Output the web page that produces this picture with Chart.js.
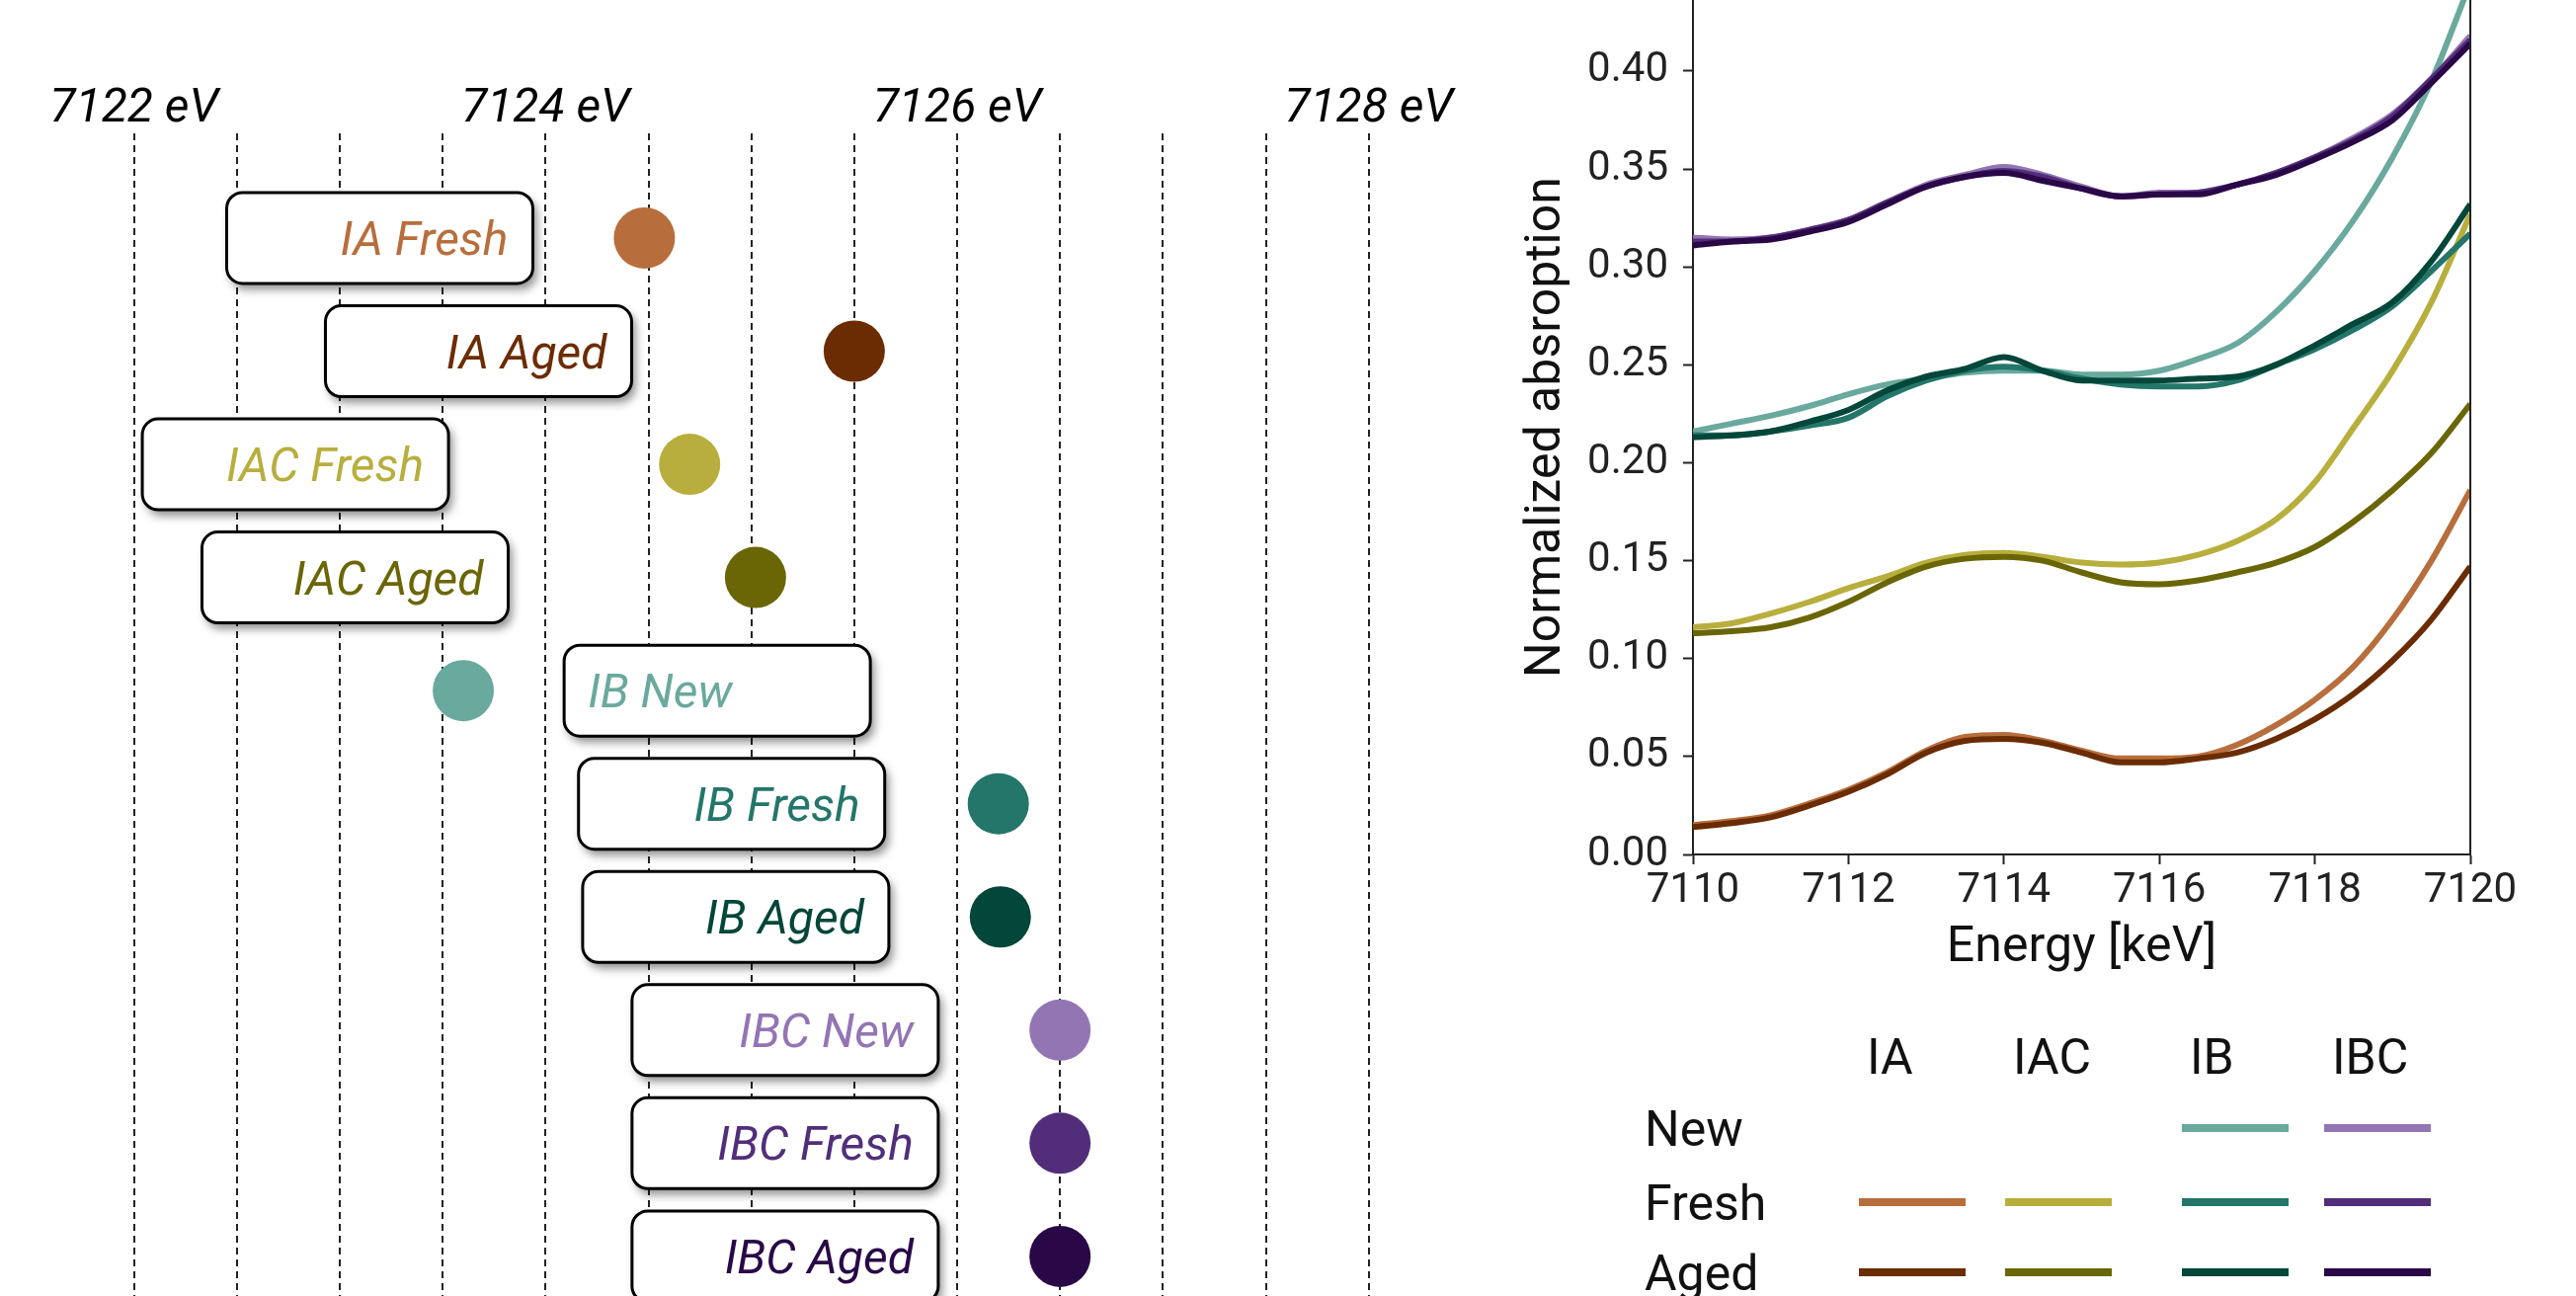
<!DOCTYPE html>
<html>
<head>
<meta charset="utf-8">
<script src="https://cdn.jsdelivr.net/npm/chart.js@4.4.1/dist/chart.umd.min.js"></script>
<style>
  body { margin: 0; width: 2608px; height: 1312px; overflow: hidden; background: #fff; position: relative; font-family: Roboto, sans-serif; }
  #edge { position: absolute; left: 0; top: 0; }
  #spec { position: absolute; left: 1500px; top: 0; }
  .lg { position: absolute; font-size: 50px; line-height: 1; color: #111; white-space: nowrap; }
  .sw { position: absolute; width: 108px; height: 8px; }
</style>
</head>
<body>
<canvas id="edge" width="1500" height="1312"></canvas>
<canvas id="spec" width="1108" height="1000"></canvas>
<div id="legend"></div>
<script>
// ---- edge positions (left panel) ----
var sampleNames = ['IA Fresh', 'IA Aged', 'IAC Fresh', 'IAC Aged', 'IB New', 'IB Fresh', 'IB Aged', 'IBC New', 'IBC Fresh', 'IBC Aged'];
var sampleColors = ['#b86e3c', '#6b2c03', '#b8ae3d', '#6b6605', '#6aa99d', '#24766a', '#03463a', '#9475b4', '#522e7a', '#2a0848'];
var edgeEnergy = [7124.48, 7125.50, 7124.70, 7125.02, 7123.60, 7126.20, 7126.21, 7126.50, 7126.50, 7126.50];
var labelFrom = [7122.45, 7122.93, 7122.04, 7122.33, 7124.09, 7124.16, 7124.18, 7124.42, 7124.42, 7124.42];
var gridEnergies = [7122, 7122.5, 7123, 7123.5, 7124, 7124.5, 7125, 7125.5, 7126, 7126.5, 7127, 7127.5, 7128];
var labeledEnergies = [7122, 7124, 7126, 7128];

// ---- spectra (right panel) ----
var energy = [7110, 7110.5, 7111, 7111.5, 7112, 7112.5, 7113, 7113.5, 7114, 7114.5, 7115, 7115.5, 7116, 7116.5, 7117, 7117.5, 7118, 7118.5, 7119, 7119.5, 7120];
var iaFresh  = [0.015, 0.017, 0.020, 0.026, 0.033, 0.042, 0.053, 0.060, 0.061, 0.058, 0.053, 0.049, 0.049, 0.050, 0.056, 0.066, 0.079, 0.096, 0.120, 0.150, 0.186];
var iaAged   = [0.014, 0.016, 0.019, 0.025, 0.032, 0.041, 0.052, 0.058, 0.059, 0.057, 0.052, 0.047, 0.047, 0.049, 0.052, 0.059, 0.069, 0.082, 0.099, 0.120, 0.147];
var iacFresh = [0.116, 0.118, 0.123, 0.129, 0.136, 0.142, 0.149, 0.153, 0.154, 0.152, 0.149, 0.148, 0.149, 0.153, 0.160, 0.171, 0.190, 0.218, 0.247, 0.282, 0.327];
var iacAged  = [0.113, 0.114, 0.116, 0.121, 0.129, 0.139, 0.147, 0.151, 0.152, 0.150, 0.144, 0.139, 0.138, 0.140, 0.144, 0.149, 0.157, 0.170, 0.186, 0.205, 0.230];
var ibNew    = [0.216, 0.220, 0.224, 0.229, 0.235, 0.240, 0.243, 0.246, 0.247, 0.247, 0.245, 0.245, 0.247, 0.253, 0.261, 0.277, 0.298, 0.324, 0.356, 0.395, 0.445];
var ibFresh  = [0.214, 0.214, 0.216, 0.219, 0.223, 0.234, 0.242, 0.247, 0.249, 0.247, 0.243, 0.240, 0.239, 0.239, 0.242, 0.250, 0.258, 0.268, 0.280, 0.298, 0.317];
var ibAged   = [0.213, 0.214, 0.216, 0.221, 0.227, 0.237, 0.244, 0.248, 0.254, 0.247, 0.242, 0.242, 0.242, 0.243, 0.244, 0.250, 0.260, 0.271, 0.282, 0.303, 0.332];
var ibcNew   = [0.315, 0.314, 0.315, 0.319, 0.324, 0.333, 0.342, 0.347, 0.351, 0.347, 0.341, 0.336, 0.338, 0.338, 0.342, 0.348, 0.356, 0.366, 0.378, 0.396, 0.418];
var ibcFresh = [0.313, 0.313, 0.315, 0.319, 0.324, 0.333, 0.341, 0.346, 0.349, 0.346, 0.340, 0.336, 0.337, 0.338, 0.342, 0.348, 0.356, 0.365, 0.377, 0.396, 0.416];
var ibcAged  = [0.311, 0.313, 0.314, 0.318, 0.323, 0.332, 0.341, 0.346, 0.348, 0.344, 0.340, 0.336, 0.337, 0.337, 0.342, 0.347, 0.355, 0.364, 0.375, 0.394, 0.414];
var xTicks = [7110, 7112, 7114, 7116, 7118, 7120];
var yTicks = [0, 0.05, 0.10, 0.15, 0.20, 0.25, 0.30, 0.35, 0.40];

var groups = ['IA', 'IAC', 'IB', 'IBC'];
var conditions = ['New', 'Fresh', 'Aged'];

var spectra = {
    'IA Fresh': iaFresh, 'IA Aged': iaAged,
    'IAC Fresh': iacFresh, 'IAC Aged': iacAged,
    'IB New': ibNew, 'IB Fresh': ibFresh, 'IB Aged': ibAged,
    'IBC New': ibcNew, 'IBC Fresh': ibcFresh, 'IBC Aged': ibcAged
};

// boxed italic labels next to each edge dot
var labelBoxes = {
    id: 'labelBoxes',
    beforeDatasetsDraw: function(chart)
    {
        var ctx = chart.ctx, x = chart.scales.x, y = chart.scales.y;
        var w = 310, h = 92;
        ctx.save();
        ctx.font = 'italic 48px Roboto';
        sampleNames.forEach(function(name, i)
        {
            var left = x.getPixelForValue(labelFrom[i]);
            var cy = y.getPixelForValue(i);
            ctx.shadowColor = 'rgba(0,0,0,0.45)';
            ctx.shadowBlur = 10;
            ctx.shadowOffsetX = 4;
            ctx.shadowOffsetY = 6;
            ctx.beginPath();
            ctx.roundRect(left, cy - h / 2, w, h, 16);
            ctx.fillStyle = '#fff';
            ctx.fill();
            ctx.shadowColor = 'transparent';
            ctx.lineWidth = 3;
            ctx.strokeStyle = '#000';
            ctx.stroke();
            ctx.fillStyle = sampleColors[i];
            ctx.textBaseline = 'alphabetic';
            if (x.getPixelForValue(edgeEnergy[i]) > left)
            {
                ctx.textAlign = 'right';
                ctx.fillText(name, left + w - 25, cy + 17);
            }
            else
            {
                ctx.textAlign = 'left';
                ctx.fillText(name, left + 24, cy + 17);
            }
        });
        ctx.restore();
    }
};

new Chart(document.getElementById('edge'), {
    type: 'scatter',
    data: {
        datasets: [{
            data: edgeEnergy.map(function(e, i) { return { x: e, y: i }; }),
            pointRadius: 31,
            pointHoverRadius: 31,
            pointBackgroundColor: sampleColors,
            pointBorderWidth: 0,
            clip: false
        }]
    },
    options: {
        responsive: false,
        animation: false,
        events: [],
        layout: { autoPadding: false, padding: { left: 42, right: 31, top: 0, bottom: 0 } },
        plugins: { legend: { display: false }, tooltip: { enabled: false } },
        scales: {
            x: {
                type: 'linear',
                position: 'top',
                min: 7121.55,
                max: 7128.4,
                afterBuildTicks: function(s) { s.ticks = gridEnergies.map(function(v) { return { value: v }; }); },
                afterFit: function(s) { s.height = 135; },
                grid: { color: '#222', lineWidth: 2, drawTicks: false },
                border: { display: false, dash: [7, 5] },
                ticks: {
                    callback: function(v) { return labeledEnergies.indexOf(v) >= 0 ? v + ' eV' : ''; },
                    font: { family: 'Roboto', size: 48, style: 'italic' },
                    color: '#000',
                    padding: -5,
                    maxRotation: 0,
                    autoSkip: false
                }
            },
            y: { type: 'linear', reverse: true, min: -0.925, max: 9.35, display: false }
        }
    },
    plugins: [labelBoxes]
});

// right-hand frame line of the spectra plot
var frameRight = {
    id: 'frameRight',
    afterDraw: function(chart)
    {
        var ctx = chart.ctx, a = chart.chartArea;
        ctx.save();
        ctx.strokeStyle = '#222';
        ctx.lineWidth = 2;
        ctx.beginPath();
        ctx.moveTo(a.right, a.top);
        ctx.lineTo(a.right, a.bottom);
        ctx.stroke();
        ctx.restore();
    }
};

var tickFont = { family: 'Roboto', size: 42 };
var titleFont = { family: 'Roboto', size: 50 };

new Chart(document.getElementById('spec'), {
    type: 'line',
    data: {
        datasets: sampleNames.map(function(name, i) {
            return {
                label: name,
                data: energy.map(function(e, k) { return { x: e, y: spectra[name][k] }; }),
                borderColor: sampleColors[i],
                borderWidth: 6,
                pointRadius: 0,
                cubicInterpolationMode: 'monotone',
                fill: false,
                order: -i,
                clip: 0
            };
        })
    },
    options: {
        responsive: false,
        animation: false,
        events: [],
        layout: { autoPadding: false, padding: { left: 0, right: 107, top: 0, bottom: 0 } },
        plugins: { legend: { display: false }, tooltip: { enabled: false } },
        scales: {
            x: {
                type: 'linear',
                min: 7110,
                max: 7120,
                afterBuildTicks: function(s) { s.ticks = xTicks.map(function(v) { return { value: v }; }); },
                afterFit: function(s) { s.height = 135; },
                grid: { drawOnChartArea: false, tickLength: 10, tickWidth: 2, tickColor: '#222' },
                border: { color: '#222', width: 2 },
                ticks: { font: tickFont, color: '#222', padding: 2, maxRotation: 0, autoSkip: false,
                         callback: function(v) { return String(v); } },
                title: { display: true, text: 'Energy [keV]', font: titleFont, color: '#111', padding: { top: 0, bottom: 10 } }
            },
            y: {
                type: 'linear',
                min: 0,
                max: 0.4363,
                afterBuildTicks: function(s) { s.ticks = yTicks.map(function(v) { return { value: v }; }); },
                afterFit: function(s) { s.width = 214; s.paddingTop = 0; s.paddingBottom = 0; },
                grid: { drawOnChartArea: false, tickLength: 10, tickWidth: 2, tickColor: '#222' },
                border: { color: '#222', width: 2 },
                ticks: { font: tickFont, color: '#222', padding: 15, autoSkip: false,
                         callback: function(v) { return v.toFixed(2); } },
                title: { display: true, text: 'Normalized absroption', font: titleFont, color: '#111', padding: { top: 36, bottom: 0 } }
            }
        }
    },
    plugins: [frameRight]
});

// legend grid below the spectra
var legend = document.getElementById('legend');
var colLeft = [1882, 2030, 2209, 2353];
var rowMid = [1142, 1217, 1288];
var fs = 50;
function addText(txt, left, mid)
{
    var d = document.createElement('div');
    d.className = 'lg';
    d.textContent = txt;
    d.style.left = left + 'px';
    d.style.top = (mid - 0.486 * fs) + 'px';
    legend.appendChild(d);
}
groups.forEach(function(g, c)
{
    addText(g, colLeft[c] + 8, 1069);
    conditions.forEach(function(cond, r)
    {
        var idx = sampleNames.indexOf(g + ' ' + cond);
        if (idx < 0) return;
        var s = document.createElement('div');
        s.className = 'sw';
        s.style.left = colLeft[c] + 'px';
        s.style.top = (rowMid[r] - 4) + 'px';
        s.style.background = sampleColors[idx];
        legend.appendChild(s);
    });
});
conditions.forEach(function(cond, r) { addText(cond, 1665, rowMid[r]); });
</script>
</body>
</html>
